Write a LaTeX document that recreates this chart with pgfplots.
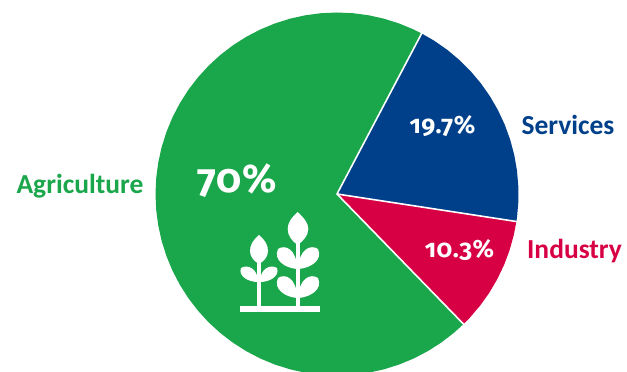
\documentclass[border=0pt]{standalone}
\usepackage{pgfplots}
\pgfplotsset{compat=1.18}
\usepackage{fontspec}
\setmainfont{Carlito}
\newfontfamily\figfont{Fira Sans}[Numbers=OldStyle,LetterSpace=2]
\definecolor{agri}{HTML}{1AA64B}
\definecolor{serv}{HTML}{00408A}
\definecolor{indu}{HTML}{D70045}
\begin{document}
\begin{tikzpicture}
\begin{axis}[
  x=1bp, y=1bp, scale only axis,
  xmin=-337, xmax=290, ymin=-178, ymax=194,
  hide axis, clip=true, anchor=south west, at={(0,0)},
  no markers, every axis plot/.append style={line join=round}]
% Wedges as (angle, radius): shares 70 / 19.7 / 10.3 per cent, starting at 62.2 degrees
\addplot[data cs=polar, fill=serv, draw=none] coordinates {
  (0,0) (62.2,181.5) (57.5,181.5) (52.5,181.5) (47.5,181.5) (42.5,181.5) (37.5,181.5)
  (32.5,181.5) (27.5,181.5) (22.5,181.5) (17.5,181.5) (12.5,181.5) (7.5,181.5)
  (2.5,181.5) (-2.5,181.5) (-7.0,181.5) (-8.72,181.5)} --cycle;
\addplot[data cs=polar, fill=indu, draw=none] coordinates {
  (0,0) (-8.72,181.5) (-13,181.5) (-18,181.5) (-23,181.5) (-28,181.5) (-33,181.5)
  (-38,181.5) (-43,181.5) (-45.8,181.5)} --cycle;
\addplot[data cs=polar, fill=agri, draw=none] coordinates {
  (0,0) (-45.8,181.5) (-50,181.5) (-55,181.5) (-60,181.5) (-65,181.5) (-70,181.5)
  (-75,181.5) (-80,181.5) (-85,181.5) (-90,181.5) (-95,181.5) (-100,181.5)
  (-105,181.5) (-110,181.5) (-115,181.5) (-120,181.5) (-125,181.5) (-130,181.5)
  (-135,181.5) (-140,181.5) (-145,181.5) (-150,181.5) (-155,181.5) (-160,181.5)
  (-165,181.5) (-170,181.5) (-175,181.5) (-180,181.5) (-185,181.5) (-190,181.5)
  (-195,181.5) (-200,181.5) (-205,181.5) (-210,181.5) (-215,181.5) (-220,181.5)
  (-225,181.5) (-230,181.5) (-235,181.5) (-240,181.5) (-245,181.5) (-250,181.5)
  (-255,181.5) (-260,181.5) (-265,181.5) (-270,181.5) (-275,181.5) (-280,181.5)
  (-285,181.5) (-290,181.5) (-295,181.5) (62.2,181.5)} --cycle;
% White separators between the wedges
\addplot[data cs=polar, white, line width=1.6pt] coordinates {(62.2,183) (0,0) (-8.72,183)};
\addplot[data cs=polar, white, line width=1.6pt] coordinates {(0,0) (-45.8,183)};
\end{axis}
\path[use as bounding box] (0,0) rectangle (627bp,372bp);
\begin{scope}[x=1bp,y=-1bp,yshift=372bp]
  \node[text=agri,font=\bfseries\fontsize{27.5bp}{30bp}\selectfont,anchor=base] at (80,194) {Agriculture};
  \node[text=serv,font=\bfseries\fontsize{27.5bp}{30bp}\selectfont,anchor=base] at (568,135) {Services};
  \node[text=indu,font=\bfseries\fontsize{27.5bp}{30bp}\selectfont,anchor=base] at (574.5,259) {Industry};
  \node[text=white,font=\figfont\bfseries\fontsize{40bp}{44bp}\selectfont,anchor=base] at (237,193) {70\%};
  \node[text=white,font=\figfont\bfseries\fontsize{25bp}{28bp}\selectfont,anchor=base] at (442.5,134) {19.7\%};
  \node[text=white,font=\figfont\bfseries\fontsize{25bp}{28bp}\selectfont,anchor=base] at (459.5,258) {10.3\%};
  % Plant pictogram
  \fill[white] (240,305.7) rectangle (320,312.3);
  \fill[white] (257,258) rectangle (261,306);
  \fill[white] (295.7,240) rectangle (299.7,306);
  \fill[white] (259,235) .. controls (253,240) and (250,245) .. (250,251) .. controls (250,257) and (254,261) .. (259,264) .. controls (264,261) and (268,257) .. (268,251) .. controls (268,245) and (265,240) .. (259,235) -- cycle;
  \fill[white] (297.7,212) .. controls (291,218) and (287.7,223) .. (287.7,229) .. controls (287.7,236) and (292,241) .. (297.7,245) .. controls (303,241) and (308.3,236) .. (308.3,229) .. controls (308.3,223) and (304,218) .. (297.7,212) -- cycle;
  % Side leaves, small plant
  \fill[white] (241,268) .. controls (247,264) and (258,268) .. (258,282) .. controls (248,282) and (238,276) .. (241,268) -- cycle;
  \fill[white] (277,268) .. controls (271,264) and (260,268) .. (260,282) .. controls (270,282) and (280,276) .. (277,268) -- cycle;
  % Side leaves, large plant
  \fill[white] (278,249) .. controls (285,244) and (297,249) .. (297,269) .. controls (285,268) and (273,260) .. (278,249) -- cycle;
  \fill[white] (318,249) .. controls (311,244) and (298.5,249) .. (298.5,269) .. controls (311,268) and (323,260) .. (318,249) -- cycle;
  \fill[white] (278,278) .. controls (285,273) and (297,278) .. (297,298) .. controls (285,297) and (273,289) .. (278,278) -- cycle;
  \fill[white] (318,278) .. controls (311,273) and (298.5,278) .. (298.5,298) .. controls (311,297) and (323,289) .. (318,278) -- cycle;
\end{scope}
\end{tikzpicture}
\end{document}
